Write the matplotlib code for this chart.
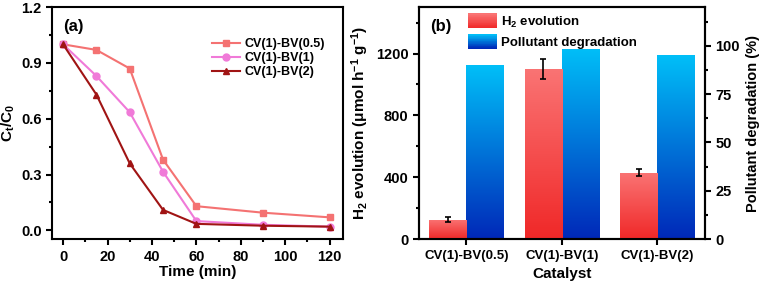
import numpy as np
import matplotlib
matplotlib.use("Agg")
import matplotlib.pyplot as plt
from matplotlib.patches import Rectangle
from matplotlib.legend_handler import HandlerBase
from matplotlib.colors import LinearSegmentedColormap
from matplotlib.ticker import MultipleLocator

plt.rcParams['font.family'] = ['Liberation Sans', 'DejaVu Sans']
plt.rcParams['font.weight'] = 'bold'
plt.rcParams['axes.labelweight'] = 'bold'
plt.rcParams['mathtext.fontset'] = 'custom'
plt.rcParams['mathtext.rm'] = 'Liberation Sans:bold'
plt.rcParams['mathtext.bf'] = 'Liberation Sans:bold'
plt.rcParams['mathtext.it'] = 'Liberation Sans:bold'
plt.rcParams['mathtext.default'] = 'bf'

# panel (a) data
time_min = [0, 15, 30, 45, 60, 90, 120]
bv05 = [1.0, 0.97, 0.87, 0.38, 0.13, 0.095, 0.07]
bv1 = [1.0, 0.83, 0.635, 0.315, 0.05, 0.03, 0.02]
bv2 = [1.0, 0.73, 0.36, 0.11, 0.035, 0.025, 0.02]

# panel (b) data
catalysts = ["CV(1)-BV(0.5)", "CV(1)-BV(1)", "CV(1)-BV(2)"]
h2 = [125, 1100, 430]
h2_err = [15, 65, 25]
degradation = [90, 98.3, 95.1]

red_cmap = LinearSegmentedColormap.from_list("r", ["#f02828", "#fa7474"])
blue_cmap = LinearSegmentedColormap.from_list("b", ["#0028b8", "#00bff8"])


def gradient_bar(ax, patch, cmap):
    x0, y0 = patch.get_x(), patch.get_y()
    w, h = patch.get_width(), patch.get_height()
    grad = np.linspace(0, 1, 256).reshape(-1, 1)
    im = ax.imshow(grad, cmap=cmap, origin='lower', aspect='auto',
                   extent=[x0, x0 + w, y0, y0 + h], zorder=patch.get_zorder())
    im.set_clip_path(patch)
    patch.set_facecolor('none')


class GradientHandler(HandlerBase):
    def __init__(self, cmap):
        super().__init__()
        self.cmap = cmap

    def create_artists(self, legend, orig_handle, xdescent, ydescent,
                       width, height, fontsize, trans):
        n = 20
        arts = []
        for i in range(n):
            r = Rectangle((-xdescent, -ydescent + height * i / n), width, height / n + 0.3,
                          facecolor=self.cmap(i / (n - 1)), edgecolor='none',
                          transform=trans)
            arts.append(r)
        return arts


def style_ticks(ax, size):
    ax.tick_params(which='both', width=1.5, labelsize=size)
    ax.tick_params(which='major', length=4)
    ax.tick_params(which='minor', length=2.5)
    for lab in ax.get_xticklabels() + ax.get_yticklabels():
        lab.set_fontweight('bold')


fig = plt.figure(figsize=(7.64, 2.85), dpi=100)
ax1 = fig.add_axes([0.068, 0.161, 0.381, 0.814])
ax2 = fig.add_axes([0.548, 0.161, 0.375, 0.814])

for ax in (ax1, ax2):
    for s in ax.spines.values():
        s.set_linewidth(1.5)

# (a)
ax1.plot(time_min, bv05, '-s', color='#f47272', lw=1.5, ms=5, label='CV(1)-BV(0.5)')
ax1.plot(time_min, bv1, '-o', color='#f07ad8', lw=1.5, ms=5, label='CV(1)-BV(1)')
ax1.plot(time_min, bv2, '-^', color='#a01414', lw=1.5, ms=5, label='CV(1)-BV(2)')
ax1.set_xlim(-5, 126)
ax1.set_ylim(-0.047, 1.2)
ax1.set_xticks([0, 20, 40, 60, 80, 100, 120])
ax1.set_yticks([0.0, 0.3, 0.6, 0.9, 1.2])
ax1.xaxis.set_minor_locator(MultipleLocator(10))
ax1.yaxis.set_minor_locator(MultipleLocator(0.15))
style_ticks(ax1, 10.5)
ax1.set_xlabel('Time (min)', fontsize=11, labelpad=1)
ax1.set_ylabel(r'C$_t$/C$_0$', fontsize=11, labelpad=3)
ax1.text(0.04, 0.95, '(a)', transform=ax1.transAxes, fontsize=12, fontweight='bold', va='top')
ax1.legend(loc='upper left', bbox_to_anchor=(0.55, 0.865), frameon=False, fontsize=9,
           handlelength=2.2, handletextpad=0.4, labelspacing=0.15, borderaxespad=0,
           borderpad=0)

# (b)
x = np.arange(len(catalysts))
w = 0.39
ax3 = ax2.twinx()
ax2.set_zorder(ax3.get_zorder() + 1)
ax2.patch.set_visible(False)
bars_r = ax2.bar(x - w / 2, h2, w, zorder=2)
ax2.errorbar(x - w / 2, h2, yerr=h2_err, fmt='none', ecolor='black', elinewidth=1.2,
             capsize=2.5, capthick=1.2, zorder=4)
bars_b = ax3.bar(x + w / 2, degradation, w, zorder=2)
for p in bars_r:
    gradient_bar(ax2, p, red_cmap)
for p in bars_b:
    gradient_bar(ax3, p, blue_cmap)

ax2.set_xlim(-0.5, 2.5)
ax2.set_ylim(0, 1500)
ax3.set_ylim(0, 120)
ax2.set_xticks(x)
ax2.set_xticklabels(catalysts)
ax2.set_yticks([0, 400, 800, 1200])
ax2.yaxis.set_minor_locator(MultipleLocator(200))
ax3.set_yticks([0, 25, 50, 75, 100])
ax3.yaxis.set_minor_locator(MultipleLocator(12.5))
for s in ax3.spines.values():
    s.set_linewidth(1.5)
style_ticks(ax2, 10.5)
style_ticks(ax3, 10.5)
ax2.tick_params(axis='x', labelsize=9.5)
ax2.set_xlabel('Catalyst', fontsize=11, labelpad=4)
ax2.set_ylabel(r'H$_2$ evolution (μmol h$^{-1}$ g$^{-1}$)', fontsize=11, labelpad=3)
ax3.set_ylabel('Pollutant degradation (%)', fontsize=10.5, labelpad=4)
ax2.text(0.04, 0.95, '(b)', transform=ax2.transAxes, fontsize=12, fontweight='bold', va='top')

h_r = Rectangle((0, 0), 1, 1)
h_b = Rectangle((0, 0), 1, 1)
ax2.legend([h_r, h_b], [r'H$_2$ evolution', 'Pollutant degradation'],
           handler_map={h_r: GradientHandler(red_cmap), h_b: GradientHandler(blue_cmap)},
           loc='upper left', bbox_to_anchor=(0.16, 0.985), frameon=False, fontsize=9.5,
           handlelength=2.2, handleheight=1.3, handletextpad=0.3, labelspacing=0.35,
           borderaxespad=0.15, borderpad=0.1)

fig.savefig('out.png', dpi=100)
